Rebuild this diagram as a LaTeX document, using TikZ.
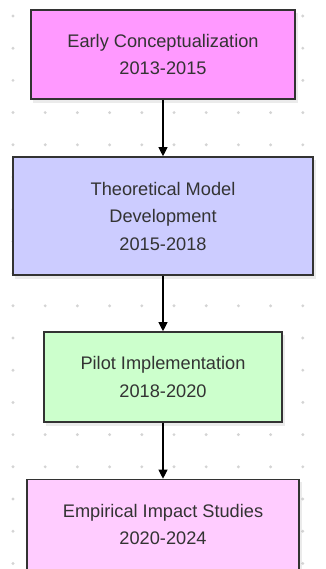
\documentclass[tikz,border=0pt]{standalone}
\usepackage{fontspec}
\setmainfont{Liberation Sans}
\usetikzlibrary{arrows.meta}
\definecolor{boxline}{HTML}{333333}
\definecolor{txt}{HTML}{333333}
\definecolor{cA}{HTML}{FF99FF}
\definecolor{cB}{HTML}{CCCCFF}
\definecolor{cC}{HTML}{CCFFCC}
\definecolor{cD}{HTML}{FFCCFF}
\definecolor{dotc}{HTML}{D4D4D4}
\tikzset{
  phase/.style={draw=boxline, line width=1.6pt, inner sep=0pt, text=txt,
    font=\fontsize{18.2pt}{27.5pt}\selectfont, align=center},
  flow/.style={draw=black, line width=1.1pt, -{Triangle[length=9pt,width=9pt]}}
}
\begin{document}
\begin{tikzpicture}[x=1pt,y=-1pt]
\useasboundingbox (0,0) rectangle (325,569);
\fill[white] (0,0) rectangle (325,569);
\foreach \i in {0,...,9}{
  \foreach \j in {0,...,17}{
    \fill[dotc] (13+32.2*\i,16+32.2*\j) circle (1.6pt);
  }
}
% shadows
\foreach \a/\b/\c/\d in {31/10/295/99, 13/157/313/275, 44/332/282/422, 27/479/299/580}{
  \fill[black,opacity=0.08] (\a+2,\b+3) rectangle (\c+3,\d+4);
}
\node[phase, fill=cA, minimum width=264pt, minimum height=89pt] (a) at (163,54.5)
  {Early Conceptualization\\2013-2015};
\node[phase, fill=cB, minimum width=300pt, minimum height=118pt] (b) at (163,216)
  {Theoretical Model\\Development\\2015-2018};
\node[phase, fill=cC, minimum width=238pt, minimum height=90pt] (c) at (163,377)
  {Pilot Implementation\\2018-2020};
\node[phase, fill=cD, minimum width=272pt, minimum height=90pt] (d) at (163,524.5)
  {Empirical Impact Studies\\2020-2024};
\draw[flow] (a.south) -- (b.north);
\draw[flow] (b.south) -- (c.north);
\draw[flow] (c.south) -- (d.north);
\end{tikzpicture}
\end{document}
